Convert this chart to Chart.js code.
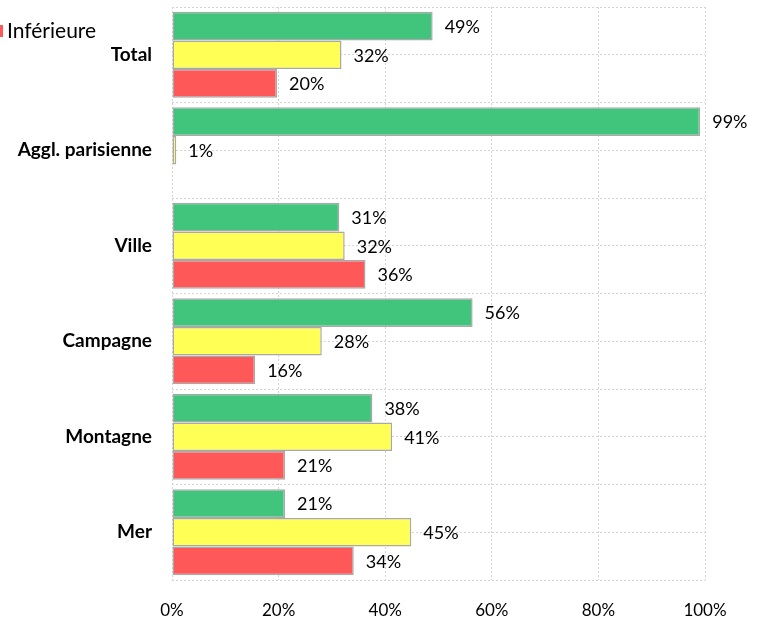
<!DOCTYPE html>
<html>
<head>
<meta charset="utf-8">
<script src="https://cdn.jsdelivr.net/npm/chart.js@4"></script>
<style>
  html, body { margin: 0; padding: 0; background: #fff; }
  #wrap { width: 758px; height: 619px; }
</style>
</head>
<body>
<div id="wrap"><canvas id="chart"></canvas></div>
<script>
const categories = ["Total", "Aggl. parisienne", "Ville", "Campagne", "Montagne", "Mer"];
const seriesNames = ["Supérieure", "Égale", "Inférieure"];
const superieure = [48.9, 99.1, 31.4, 56.4, 37.6, 21.2];
const egale = [31.8, 0.8, 32.4, 28.1, 41.3, 44.9];
const inferieure = [19.7, null, 36.3, 15.6, 21.2, 34.1];
const xTicks = [0, 20, 40, 60, 80, 100];

const FONT = "Lato";
const gridColor = "#d4d4d4";

// value at the end of each bar
const valueLabels = {
  id: "valueLabels",
  afterDatasetsDraw(chart) {
    const { ctx } = chart;
    ctx.save();
    ctx.font = `18px ${FONT}`;
    ctx.fillStyle = "#000";
    ctx.textBaseline = "middle";
    chart.data.datasets.forEach((ds, i) => {
      chart.getDatasetMeta(i).data.forEach((bar, j) => {
        const v = ds.data[j];
        if (v == null) return;
        ctx.fillText(Math.round(v) + "%", bar.x + 12, bar.y + 1);
      });
    });
    ctx.restore();
  }
};

// the legend sits mostly off the canvas, only the last entry shows
const cutLegend = {
  id: "cutLegend",
  afterDraw(chart) {
    const { ctx } = chart;
    const ds = chart.data.datasets[2];
    ctx.save();
    ctx.fillStyle = ds.backgroundColor;
    ctx.fillRect(-9, 25, 12, 12);
    ctx.font = `21px ${FONT}`;
    ctx.fillStyle = "#000";
    ctx.textBaseline = "middle";
    ctx.fillText(ds.label, 7, 31);
    ctx.restore();
  }
};

const barStyle = {
  borderColor: "#a9a9a9",
  borderWidth: 1.5,
  borderSkipped: false,
  categoryPercentage: 0.9,
  barPercentage: 1.0,
};

new Chart(document.getElementById("chart"), {
  type: "bar",
  data: {
    labels: categories,
    datasets: [
      { label: seriesNames[0], data: superieure, backgroundColor: "#41c47b", ...barStyle },
      { label: seriesNames[1], data: egale, backgroundColor: "#ffff55", ...barStyle },
      { label: seriesNames[2], data: inferieure, backgroundColor: "#ff5858", ...barStyle },
    ],
  },
  options: {
    indexAxis: "y",
    responsive: true,
    maintainAspectRatio: false,
    animation: false,
    layout: { padding: { top: 7, right: 53, left: 0, bottom: 0 } },
    plugins: {
      legend: { display: false },
      tooltip: { enabled: false },
    },
    scales: {
      x: {
        min: 0,
        max: 100,
        afterBuildTicks: (s) => { s.ticks = xTicks.map((v) => ({ value: v })); },
        afterFit: (s) => { s.height = 39; },
        ticks: {
          callback: (v) => v + "%",
          font: { family: FONT, size: 17 },
          color: "#000",
          padding: 20,
        },
        grid: { color: gridColor, drawTicks: false },
        border: { display: false, dash: [2, 2] },
      },
      y: {
        afterFit: (s) => { s.width = 172; s.paddingTop = 0; s.paddingBottom = 0; },
        ticks: {
          font: { family: FONT, size: 19, weight: "bold" },
          color: "#000",
          padding: 20,
        },
        grid: { color: gridColor, drawTicks: false },
        border: { display: false, dash: [2, 2] },
      },
      y2: {
        type: "category",
        labels: categories,
        position: "left",
        offset: true,
        afterFit: (s) => { s.width = 0; s.paddingTop = 0; s.paddingBottom = 0; },
        ticks: { display: false },
        grid: { offset: false, color: gridColor, drawTicks: false },
        border: { display: false, dash: [2, 2] },
      },
    },
  },
  plugins: [valueLabels, cutLegend],
});
</script>
</body>
</html>
